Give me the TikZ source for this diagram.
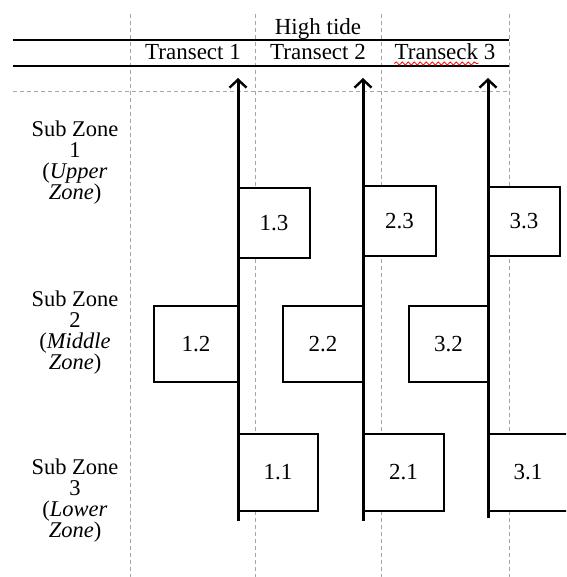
\documentclass[tikz,border=0pt]{standalone}
\usepackage{fontspec}
\setmainfont{Liberation Serif}
\usetikzlibrary{arrows.meta,decorations.pathmorphing}

\begin{document}
\begin{tikzpicture}[x = 1pt, y = -1pt, font = \fontsize{23}{21}\selectfont,
  grid/.style = {gray!70, dash pattern = on 4pt off 3pt, line width = .8pt},
  cell/.style = {draw, line width = 1.2pt, fill = white, inner sep = 0pt},
  flow/.style = {-{Straight Barb[length = 8pt, width = 17pt, line width = 2.4pt]}, line width = 3pt}]
\clip (0,0) rectangle (566,577);
% table grid
\foreach \x in {130,255,381,509} \draw[grid] (\x,14) -- (\x,577);
\draw[grid] (13,91) -- (509,91);
\draw[line width = 1.6pt] (13,40) -- (509,40);
\draw[line width = 1.6pt] (13,66) -- (509,66);
% header
\node[anchor = base, inner sep = 0pt] (tide) at (318,35) {High tide};
\node[anchor = base, inner sep = 0pt] (tr1) at (193,60) {Transect 1};
\node[anchor = base, inner sep = 0pt] (tr2) at (318,60) {Transect 2};
\node[anchor = base, inner sep = 0pt] (tr3) at (445,60) {Transeck 3};
\draw[red, line width = .8pt, decorate, decoration = {snake, amplitude = 1.6pt, segment length = 6pt}]
  ([yshift = -3.5pt]tr3.base west) -- ++(84,0);
% sub zones
\node[align = center, font = \fontsize{22.5}{21}\selectfont] (sz1) at (75,163) {Sub Zone\\1\\(\textit{Upper}\\\textit{Zone})};
\node[align = center, font = \fontsize{22.5}{21}\selectfont] (sz2) at (75,333) {Sub Zone\\2\\(\textit{Middle}\\\textit{Zone})};
\node[align = center, font = \fontsize{22.5}{21}\selectfont] (sz3) at (75,501) {Sub Zone\\3\\(\textit{Lower}\\\textit{Zone})};
% sample plots
\node[cell, minimum width = 72pt, minimum height = 70pt] (p13) at (274,223) {1.3};
\node[cell, minimum width = 73pt, minimum height = 70pt] (p23) at (399.5,221) {2.3};
\node[cell, minimum width = 72pt, minimum height = 69pt] (p33) at (524,221.5) {3.3};
\node[cell, minimum width = 84pt, minimum height = 76pt] (p12) at (196,344) {1.2};
\node[cell, minimum width = 80pt, minimum height = 76pt] (p22) at (323,344) {2.2};
\node[cell, minimum width = 79pt, minimum height = 76pt] (p32) at (448.5,344) {3.2};
\node[cell, minimum width = 80pt, minimum height = 77pt] (p11) at (278,472.5) {1.1};
\node[cell, minimum width = 81pt, minimum height = 77pt] (p21) at (403.5,472.5) {2.1};
\node[cell, minimum width = 80pt, minimum height = 77pt] (p31) at (528,472.5) {3.1};
% transect lines
\coordinate (a1s) at (238,521); \coordinate (a1e) at (238,78);
\coordinate (a2s) at (363,521); \coordinate (a2e) at (363,78);
\coordinate (a3s) at (488,518); \coordinate (a3e) at (488,78);
\draw[flow] (a1s) -- (a1e);
\draw[flow] (a2s) -- (a2e);
\draw[flow] (a3s) -- (a3e);
\end{tikzpicture}
\end{document}
